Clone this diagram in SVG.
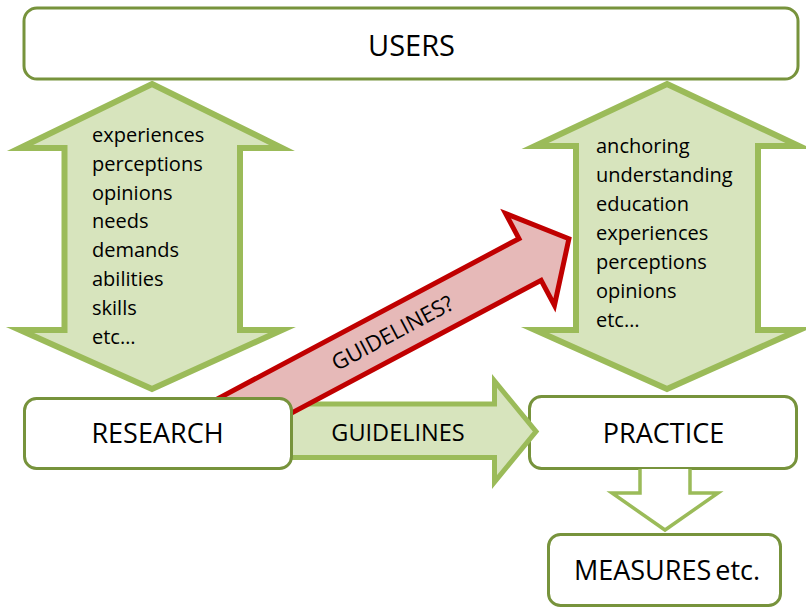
<svg xmlns="http://www.w3.org/2000/svg" width="806" height="608" viewBox="0 0 806 608">
<style>
.box{fill:#fff;stroke:#77933C;stroke-width:3}
.garrow{fill:#D7E4BD;stroke:#9BBB59;stroke-width:6;stroke-miterlimit:10}
.rarrow{fill:#E6B9B8;stroke:#C00000;stroke-width:5;stroke-miterlimit:10}
.t{font-family:"Open Sans","Liberation Sans",sans-serif;fill:#000}
.lbl{font-size:27px;text-anchor:middle}
.lst{font-size:20px}
</style>
<rect width="806" height="608" fill="#fff"/>
<g id="users">
<rect class="box" x="24" y="8" width="774" height="71" rx="13"/>
<text class="t lbl" x="411.5" y="56" style="font-size:29px">USERS</text>
</g>
<g id="practice">
<rect class="box" x="529.5" y="396.5" width="267" height="72" rx="12"/>
<text class="t lbl" x="663.5" y="443">PRACTICE</text>
</g>
<g id="measures">
<rect class="box" x="548.5" y="534.5" width="232" height="71" rx="12"/>
<text class="t lbl" x="667" y="580" style="font-size:27px;word-spacing:-3px">MEASURES etc.</text>
</g>
<g id="connectors">
<g id="users-research">
<path class="garrow" d="M152,84 L282,148 L240,148 L240,330 L282,330 L152,389 L20,330 L64.5,330 L64.5,148 L20,148 Z"/>
<text class="t lst" x="92"><tspan x="92" y="142">experiences</tspan><tspan x="92" y="170.8">perceptions</tspan><tspan x="92" y="199.6">opinions</tspan><tspan x="92" y="228.4">needs</tspan><tspan x="92" y="257.2">demands</tspan><tspan x="92" y="286">abilities</tspan><tspan x="92" y="314.8">skills</tspan><tspan x="92" y="343.6">etc…</tspan></text>
</g>
<g id="users-practice">
<path class="garrow" d="M667,84 L799,146 L758,146 L758,330 L799,330 L667,389 L535,330 L576,330 L576,146 L535,146 Z"/>
<text class="t lst"><tspan x="596" y="153">anchoring</tspan><tspan x="596" y="182">understanding</tspan><tspan x="596" y="211">education</tspan><tspan x="596" y="240">experiences</tspan><tspan x="596" y="269">perceptions</tspan><tspan x="596" y="298">opinions</tspan><tspan x="596" y="327">etc…</tspan></text>
</g>
<g id="research-practice">
<path class="garrow" style="stroke-width:5" d="M285,404 L494.5,404 L494.5,381 L536,431.5 L494.5,482 L494.5,457.5 L285,457.5 Z"/>
<text class="t" x="398" y="441" style="font-size:23.5px;text-anchor:middle">GUIDELINES</text>
</g>
<g id="research-practice-question" transform="translate(568.9,238.8) rotate(-28)">
<path class="rarrow" d="M-430,-23.6 L-44,-23.6 L-44,-52 L0,0 L-44,52 L-44,23.6 L-430,23.6 Z"/>
<text class="t" x="-200" y="8" style="font-size:22px;text-anchor:middle">GUIDELINES?</text>
</g>
<g id="practice-measures">
<path d="M640,469 L640,493 L612,493 L665,530 L718,493 L690,493 L690,469" fill="#fff" stroke="#9BBB59" stroke-width="3.5" stroke-miterlimit="10"/>
</g>
</g>
<g id="research">
<rect class="box" x="24.5" y="398.5" width="267" height="70" rx="12"/>
<text class="t lbl" x="157.5" y="443">RESEARCH</text>
</g>
</svg>
